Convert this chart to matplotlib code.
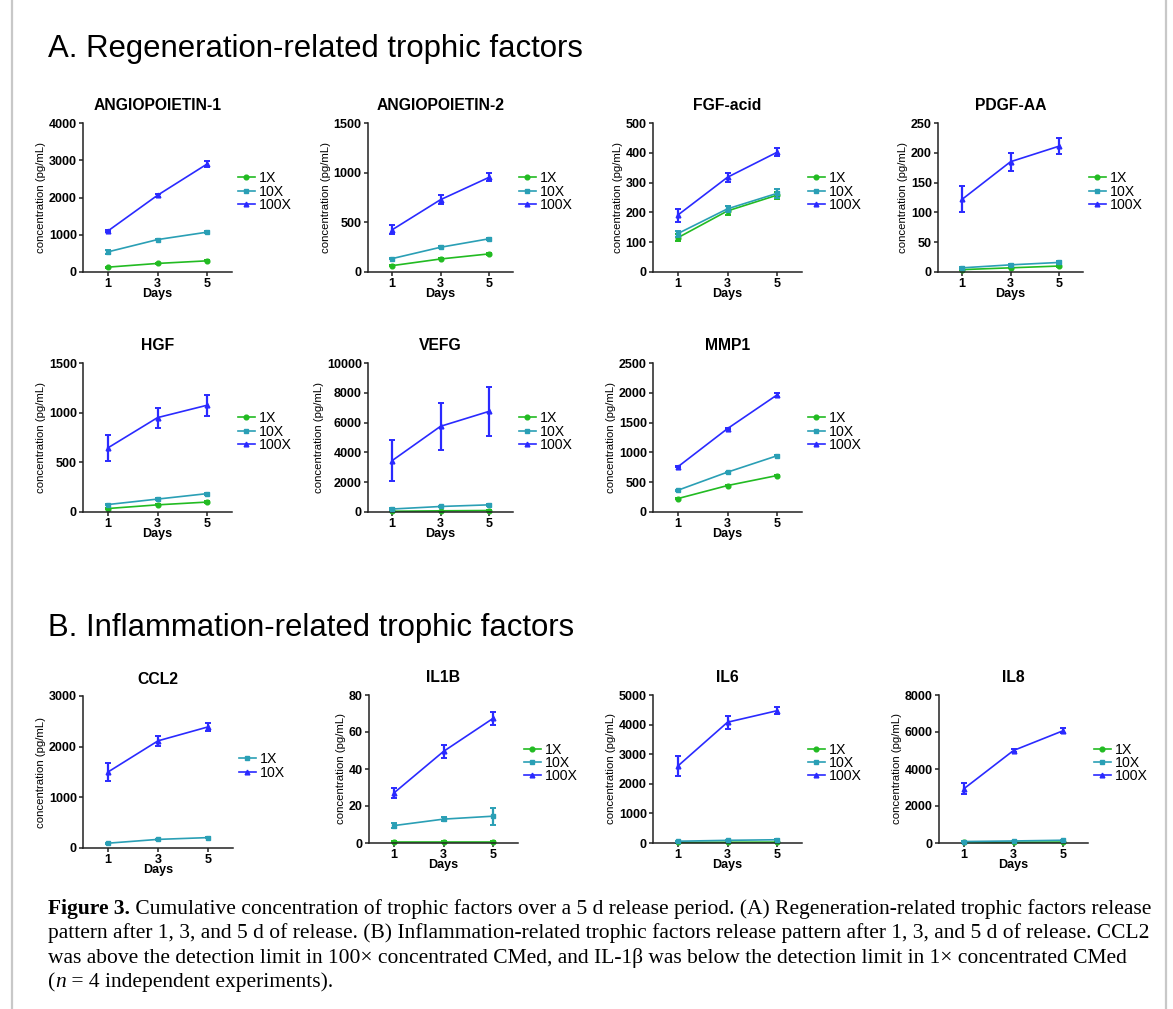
import matplotlib.pyplot as plt

plt.rcParams['font.family'] = ['Liberation Sans', 'DejaVu Sans']

W, H = 1173, 1009

days = [1, 3, 5]
dose_labels = ['1X', '10X', '100X']
ccl2_labels = ['1X', '10X']
colors = ['#22bb22', '#2a9fb5', '#2a2aff']
markers = ['o', 's', '^']

# mean / sd per dose (1X, 10X, 100X)
ang1_mean = [[130, 230, 300], [540, 870, 1070], [1100, 2060, 2900]]
ang1_sd = [[15, 15, 15], [50, 20, 20], [20, 40, 70]]
ang2_mean = [[64, 131, 182], [135, 249, 334], [425, 728, 952]]
ang2_sd = [[5, 5, 6], [8, 8, 8], [45, 47, 40]]
fgf_mean = [[115, 205, 258], [129, 212, 264], [191, 318, 402]]
fgf_sd = [[12, 15, 12], [10, 10, 15], [22, 15, 13]]
pdgf_mean = [[4, 7, 10], [7, 12, 16], [122, 185, 211]]
pdgf_sd = [[1, 1, 1.5], [2, 2, 2.5], [22, 15, 13]]
hgf_mean = [[35, 72, 100], [75, 130, 185], [645, 950, 1075]]
hgf_sd = [[5, 5, 6], [8, 8, 10], [135, 100, 105]]
vefg_mean = [[50, 80, 100], [200, 370, 480], [3450, 5750, 6750]]
vefg_sd = [[10, 10, 10], [40, 40, 50], [1370, 1570, 1650]]
mmp1_mean = [[225, 444, 612], [365, 669, 944], [758, 1399, 1966]]
mmp1_sd = [[8, 8, 10], [10, 10, 12], [10, 10, 35]]
ccl2_mean = [[95, 170, 205], [1500, 2115, 2390]]
ccl2_sd = [[8, 8, 10], [170, 105, 75]]
il1b_mean = [[0.8, 0.8, 0.8], [9.4, 12.9, 14.5], [27, 49.5, 67.4]]
il1b_sd = [[0.1, 0.1, 0.1], [1.2, 1.0, 4.5], [2.5, 3.5, 3.5]]
il6_mean = [[20, 25, 30], [60, 90, 110], [2600, 4080, 4470]]
il6_sd = [[5, 5, 5], [15, 15, 20], [330, 215, 120]]
il8_mean = [[30, 40, 50], [80, 110, 150], [2930, 5000, 6070]]
il8_sd = [[10, 10, 10], [20, 20, 25], [300, 100, 120]]

# title, means, sds, ymax, ystep, labels, colour indices, axes box in px (left, top, right, bottom)
panels = [
    ('ANGIOPOIETIN-1', ang1_mean, ang1_sd, 4000, 1000, dose_labels, [0, 1, 2], (83, 123, 232, 272)),
    ('ANGIOPOIETIN-2', ang2_mean, ang2_sd, 1500, 500, dose_labels, [0, 1, 2], (368, 123, 513, 272)),
    ('FGF-acid', fgf_mean, fgf_sd, 500, 100, dose_labels, [0, 1, 2], (653, 123, 802, 272)),
    ('PDGF-AA', pdgf_mean, pdgf_sd, 250, 50, dose_labels, [0, 1, 2], (938, 123, 1083, 272)),
    ('HGF', hgf_mean, hgf_sd, 1500, 500, dose_labels, [0, 1, 2], (83, 363, 232, 512)),
    ('VEFG', vefg_mean, vefg_sd, 10000, 2000, dose_labels, [0, 1, 2], (368, 363, 513, 512)),
    ('MMP1', mmp1_mean, mmp1_sd, 2500, 500, dose_labels, [0, 1, 2], (653, 363, 802, 512)),
    ('CCL2', ccl2_mean, ccl2_sd, 3000, 1000, ccl2_labels, [1, 2], (83, 696, 233, 848)),
    ('IL1B', il1b_mean, il1b_sd, 80, 20, dose_labels, [0, 1, 2], (369, 695, 518, 843)),
    ('IL6', il6_mean, il6_sd, 5000, 1000, dose_labels, [0, 1, 2], (653, 695, 802, 843)),
    ('IL8', il8_mean, il8_sd, 8000, 2000, dose_labels, [0, 1, 2], (939, 695, 1088, 843)),
]

fig = plt.figure(figsize=(W / 100, H / 100), dpi=100)

for title, means, sds, ymax, ystep, labs, cidx, box in panels:
    l, t, r, b = box
    ax = fig.add_axes([l / W, 1 - b / H, (r - l) / W, (b - t) / H])
    handles = []
    for m, s, lab, ci in zip(means, sds, labs, cidx):
        cont = ax.errorbar(days, m, yerr=s, color=colors[ci], marker=markers[ci],
                           ms=3.4, lw=1.2, elinewidth=1.6, capsize=2, capthick=1.4,
                           zorder=2 + ci, clip_on=False)
        cont[0].set_label(lab)
        handles.append(cont[0])
    ax.set_xlim(0, 6)
    ax.set_ylim(0, ymax)
    ax.set_xticks(days)
    ax.set_yticks(range(0, ymax + 1, ystep))
    for sp in ['top', 'right']:
        ax.spines[sp].set_visible(False)
    for sp in ['left', 'bottom']:
        ax.spines[sp].set_linewidth(1.1)
        ax.spines[sp].set_color('#222222')
    ax.tick_params(direction='out', length=3, width=1.1, color='#222222',
                   labelsize=9, pad=1.5)
    for lbl in ax.get_xticklabels() + ax.get_yticklabels():
        lbl.set_fontweight('bold')
    ax.set_title(title, fontsize=11.3, fontweight='bold', pad=9)
    ax.set_xlabel('Days', fontsize=9, fontweight='bold', labelpad=-1.5)
    ax.set_ylabel('concentration (pg/mL)', fontsize=8.2, labelpad=2)
    ax.legend(handles=handles, loc='center left', bbox_to_anchor=(1.0, 0.54),
              frameon=False, fontsize=10.2, handlelength=1.2, handletextpad=0.3,
              labelspacing=-0.05, borderaxespad=0)

fig.text(48 / W, 1 - 49 / H, 'A. Regeneration-related trophic factors', fontsize=22.4, va='center')
fig.text(48 / W, 1 - 628 / H, 'B. Inflammation-related trophic factors', fontsize=22.4, va='center')

# caption with bold / italic pieces
caption = [
    [('Figure 3.', {'fontweight': 'bold'}),
     (' Cumulative concentration of trophic factors over a 5 d release period. (A) Regeneration-related trophic factors release', {})],
    [('pattern after 1, 3, and 5 d of release. (B) Inflammation-related trophic factors release pattern after 1, 3, and 5 d of release. CCL2', {})],
    [('was above the detection limit in 100\u00d7 concentrated CMed, and IL-1\u03b2 was below the detection limit in 1\u00d7 concentrated CMed', {})],
    [('(', {}), ('n', {'fontstyle': 'italic'}), (' = 4 independent experiments).', {})],
]
caption_y = [914, 938, 963, 987]

fig.canvas.draw()
rend = fig.canvas.get_renderer()
for parts, y in zip(caption, caption_y):
    x = 48
    for txt, style in parts:
        tt = fig.text(x / W, 1 - y / H, txt, fontsize=15.5, va='baseline',
                      family=['Liberation Serif', 'DejaVu Serif'], **style)
        x += tt.get_window_extent(renderer=rend).width

# page frame
for xp in [12, 1166]:
    fig.add_artist(plt.Line2D([xp / W, xp / W], [0, 1], color='#c8c8c8', lw=1.6))

plt.savefig('out.png', dpi=100)
